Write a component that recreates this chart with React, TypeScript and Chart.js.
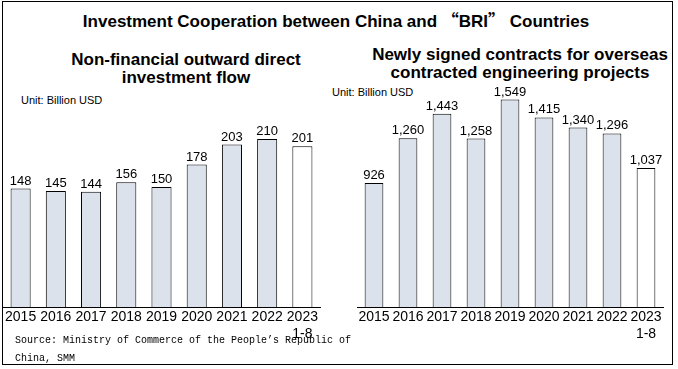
import React, { useEffect, useRef } from 'react';
import { Chart, registerables } from 'chart.js';

Chart.register(...registerables);

const years: (string | string[])[] = ['2015', '2016', '2017', '2018', '2019', '2020', '2021', '2022', ['2023', '1-8']];
const investmentFlow = [148, 145, 144, 156, 150, 178, 203, 210, 201];
const contractValues = [926, 1260, 1443, 1258, 1549, 1415, 1340, 1296, 1037];

const mainTitleParts = ['Investment Cooperation between China and ', '“', 'BRI', '”', ' Countries'];
const leftTitle = ['Non-financial outward direct', 'investment flow'];
const rightTitle = ['Newly signed contracts for overseas', 'contracted engineering projects'];
const unitText = 'Unit: Billion USD';
const sourceLines = ['Source: Ministry of Commerce of the People’s Republic of', 'China, SMM'];

const BAR_FILL = '#DCE2EC';
const LAST_FILL = '#FFFFFF';
const NARROW = "'Liberation Sans Narrow', 'Liberation Sans', sans-serif";
const CJK = "'Noto Sans CJK SC', 'Liberation Sans Narrow', sans-serif";

const valueLabels = {
  id: 'valueLabels',
  afterDatasetsDraw(chart: any) {
    const ctx = chart.ctx;
    const meta = chart.getDatasetMeta(0);
    const data = chart.data.datasets[0].data as number[];
    ctx.save();
    ctx.font = "13px 'Liberation Sans', sans-serif";
    ctx.fillStyle = '#000';
    ctx.textAlign = 'center';
    ctx.textBaseline = 'alphabetic';
    meta.data.forEach((el: any, i: number) => {
      ctx.fillText(data[i].toLocaleString('en-US'), el.x, el.y - 4);
    });
    ctx.restore();
  },
};

type BarProps = {
  values: number[];
  max: number;
  width: number;
  height: number;
  padding: { left: number; right: number; top: number; bottom: number };
  style: React.CSSProperties;
  barPct: number;
};

function BarChart({ values, max, width, height, padding, style, barPct }: BarProps) {
  const ref = useRef<HTMLCanvasElement | null>(null);
  useEffect(() => {
    if (!ref.current) return;
    const colors = values.map((_, i) => (i === values.length - 1 ? LAST_FILL : BAR_FILL));
    const chart = new Chart(ref.current, {
      type: 'bar',
      data: {
        labels: years,
        datasets: [
          {
            data: values,
            backgroundColor: colors,
            borderColor: '#000',
            borderWidth: 1,
            barPercentage: barPct,
            categoryPercentage: 1,
          },
        ],
      },
      options: {
        responsive: false,
        animation: false,
        layout: { padding },
        plugins: {
          legend: { display: false },
          tooltip: { enabled: false },
          title: { display: false },
        },
        scales: {
          x: {
            grid: { display: false, drawTicks: false },
            border: { display: true, color: '#000', width: 1 },
            ticks: {
              color: '#000',
              font: { family: NARROW, size: 14 },
              padding: 2,
              maxRotation: 0,
              autoSkip: false,
            },
            afterFit: (s: any) => {
              s.height = 43;
            },
          },
          y: { display: false, min: 0, max },
        },
      },
      plugins: [valueLabels],
    });
    return () => chart.destroy();
  }, []);
  return <canvas ref={ref} width={width} height={height} style={{ position: 'absolute', ...style }} />;
}

export default function App() {
  return (
    <div
      style={{
        position: 'fixed',
        left: 0,
        top: 0,
        width: 678,
        height: 369,
        background: '#fff',
        overflow: 'hidden',
        fontFamily: "'Liberation Sans', sans-serif",
        color: '#000',
      }}
    >
      <div
        style={{
          position: 'absolute',
          left: 2,
          top: 1,
          width: 669,
          height: 362,
          border: '1px solid #000',
        }}
      />
      <div
        style={{
          position: 'absolute',
          left: 0,
          top: 8,
          width: 672,
          textAlign: 'center',
          fontFamily: NARROW,
          fontWeight: 'bold',
          fontSize: 17,
          lineHeight: '24px',
          whiteSpace: 'pre',
        }}
      >
        {mainTitleParts[0]}
        <span style={{ fontFamily: CJK }}>{mainTitleParts[1]}</span>
        {mainTitleParts[2]}
        <span style={{ fontFamily: CJK }}>{mainTitleParts[3]}</span>
        {mainTitleParts[4]}
      </div>
      <div
        style={{
          position: 'absolute',
          left: 36,
          top: 51,
          width: 300,
          textAlign: 'center',
          fontFamily: NARROW,
          fontWeight: 'bold',
          fontSize: 17,
          lineHeight: '18px',
        }}
      >
        {leftTitle[0]}
        <br />
        {leftTitle[1]}
      </div>
      <div
        style={{
          position: 'absolute',
          left: 360,
          top: 46,
          width: 320,
          textAlign: 'center',
          fontFamily: NARROW,
          fontWeight: 'bold',
          fontSize: 17,
          lineHeight: '18px',
        }}
      >
        {rightTitle[0]}
        <br />
        {rightTitle[1]}
      </div>
      <div style={{ position: 'absolute', left: 21, top: 93, fontSize: 11, lineHeight: '14px', whiteSpace: 'pre' }}>
        {unitText}
      </div>
      <div style={{ position: 'absolute', left: 332, top: 85, fontSize: 11, lineHeight: '14px', whiteSpace: 'pre' }}>
        {unitText}
      </div>
      <BarChart
        values={investmentFlow}
        max={260}
        width={330}
        height={270}
        padding={{ left: 3, right: 10, top: 19, bottom: 0 }}
        style={{ left: 0, top: 80 }}
        barPct={0.57}
      />
      <BarChart
        values={contractValues}
        max={1650}
        width={338}
        height={270}
        padding={{ left: 17, right: 15, top: 6, bottom: 0 }}
        style={{ left: 340, top: 80 }}
        barPct={0.55}
      />
      <div
        style={{
          position: 'absolute',
          left: 15,
          top: 332,
          fontFamily: "'Liberation Mono', monospace",
          fontSize: 10,
          lineHeight: '18px',
          whiteSpace: 'pre',
        }}
      >
        {sourceLines[0]}
        <br />
        {sourceLines[1]}
      </div>
    </div>
  );
}
